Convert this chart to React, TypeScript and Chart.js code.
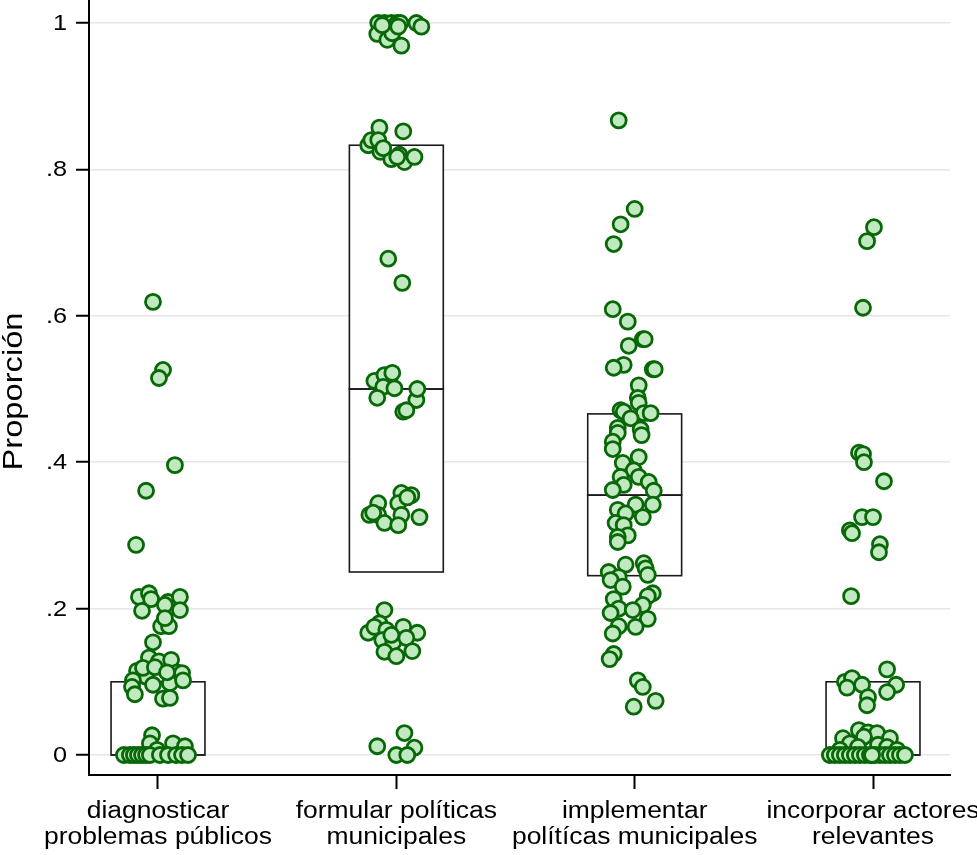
import React, { useEffect, useRef } from "react";
import { Chart, registerables } from "chart.js";

Chart.register(...registerables);

// Category labels (two lines each)
const categories: string[][] = [
  ["diagnosticar", "problemas públicos"],
  ["formular políticas", "municipales"],
  ["implementar", "polítícas municipales"],
  ["incorporar actores", "relevantes"],
];

const yTicks = [0, 0.2, 0.4, 0.6, 0.8, 1];
const yTitle = "Proporción";

// Box statistics per category
const q1 = [0, 0.25, 0.245, 0];
const median = [0, 0.5, 0.355, 0];
const q3 = [0.1, 0.833, 0.466, 0.1];

// Observed proportions and their horizontal jitter (category units)
const diagValues = [
  0.619, 0.526, 0.515, 0.396, 0.361, 0.287, 0.216, 0.221, 0.213, 0.197, 0.209, 0.216, 0.198,
  0.205, 0.176, 0.176, 0.187, 0.154, 0.133, 0.128, 0.13, 0.115, 0.113, 0.112, 0.107, 0.102,
  0.093, 0.083, 0.096, 0.098, 0.077, 0.078, 0.102, 0.119, 0.12, 0.113, 0.027, 0.016, 0.007,
  0.016, 0.012, 0, 0, 0, 0, 0, 0, 0, 0, 0, 0, 0, 0,
];
const diagJitter = [
  -0.021, 0.021, 0.004, 0.071, -0.05, -0.092, -0.08, -0.038, -0.029, -0.067, 0.042, 0.092, 0.092,
  0.029, 0.013, 0.046, 0.029, -0.021, -0.038, 0.004, 0.055, -0.088, 0.08, 0.101, -0.05, -0.105,
  -0.109, -0.097, -0.021, 0.05, 0.021, 0.05, 0.105, -0.063, -0.013, 0.038, -0.025, -0.034, -0.004,
  0.063, 0.113, -0.143, -0.118, -0.101, -0.084, -0.067, -0.05, -0.034, 0.008, 0.042, 0.076, 0.101,
  0.126,
];

const formValues = [
  1, 1, 1, 1, 1, 1, 0.995, 0.985, 0.977, 0.986, 0.995, 0.969, 0.997, 0.857, 0.852, 0.833, 0.84,
  0.84, 0.824, 0.814, 0.82, 0.81, 0.817, 0.817, 0.829, 0.678, 0.645, 0.511, 0.519, 0.522, 0.503,
  0.501, 0.488, 0.485, 0.5, 0.469, 0.471, 0.344, 0.358, 0.355, 0.328, 0.328, 0.344, 0.328, 0.325,
  0.317, 0.314, 0.352, 0.331, 0.198, 0.167, 0.18, 0.175, 0.171, 0.175, 0.167, 0.157, 0.154, 0.16,
  0.141, 0.135, 0.142, 0.164, 0.03, 0.012, 0.01, 0, 0,
];
const formJitter = [
  -0.076, -0.05, -0.021, 0.004, 0.017, 0.084, 0.105, -0.08, -0.038, -0.017, 0.008, 0.021, -0.059,
  -0.071, 0.029, -0.118, -0.105, -0.076, -0.067, -0.021, 0.013, 0.034, 0.076, 0.004, -0.055,
  -0.034, 0.025, -0.092, -0.05, -0.017, -0.055, -0.008, -0.08, 0.084, 0.088, 0.029, 0.042, -0.076,
  0.021, 0.063, -0.113, -0.076, 0.008, 0.021, 0.097, -0.05, 0.008, 0.046, -0.097, -0.05, -0.118,
  -0.071, -0.092, -0.042, 0.029, 0.088, -0.059, -0.013, 0.042, -0.05, 0, 0.067, -0.021, 0.034,
  -0.08, 0.076, 0, 0.046,
];

const implValues = [
  0.867, 0.746, 0.725, 0.698, 0.609, 0.592, 0.568, 0.568, 0.559, 0.533, 0.529, 0.527, 0.527,
  0.505, 0.488, 0.481, 0.471, 0.469, 0.467, 0.467, 0.46, 0.447, 0.445, 0.44, 0.437, 0.428, 0.418,
  0.407, 0.399, 0.389, 0.38, 0.38, 0.373, 0.369, 0.362, 0.361, 0.342, 0.342, 0.335, 0.33, 0.325,
  0.317, 0.314, 0.3, 0.298, 0.291, 0.26, 0.262, 0.255, 0.25, 0.243, 0.246, 0.239, 0.23, 0.221,
  0.217, 0.213, 0.205, 0.2, 0.198, 0.194, 0.186, 0.176, 0.175, 0.166, 0.138, 0.131, 0.102, 0.093,
  0.074, 0.066,
];
const implJitter = [
  -0.067, 0, -0.059, -0.088, -0.092, -0.029, 0.034, 0.042, -0.025, -0.046, -0.088, 0.076, 0.084,
  0.017, 0.013, 0.017, -0.059, -0.046, 0.038, 0.067, -0.017, -0.071, 0.025, -0.071, 0.029, -0.092,
  -0.092, 0.017, -0.05, -0.004, -0.059, 0.017, 0.059, -0.046, -0.092, 0.08, 0.076, 0.004, -0.071,
  -0.038, 0.034, -0.08, -0.046, -0.029, -0.071, -0.071, -0.038, 0.038, 0.046, -0.109, -0.067,
  0.055, -0.101, -0.05, 0.076, 0.055, -0.088, 0.034, -0.067, -0.008, -0.101, 0.055, -0.067, 0.004,
  -0.092, -0.088, -0.105, 0.013, 0.034, 0.088, -0.004,
];

const incValues = [
  0.721, 0.702, 0.611, 0.413, 0.411, 0.4, 0.374, 0.325, 0.325, 0.307, 0.303, 0.288, 0.277, 0.217,
  0.117, 0.1, 0.105, 0.096, 0.092, 0.096, 0.086, 0.079, 0.068, 0.034, 0.031, 0.03, 0.023, 0.025,
  0.023, 0.016, 0.011, 0.014, 0.011, 0.007, 0.007, 0, 0, 0, 0, 0, 0, 0, 0, 0, 0, 0, 0, 0, 0, 0, 0,
  0,
];
const incJitter = [
  0.004, -0.025, -0.042, -0.059, -0.042, -0.038, 0.046, -0.046, 0, -0.097, -0.088, 0.029, 0.025,
  -0.092, 0.059, -0.118, -0.088, -0.046, -0.109, 0.097, 0.059, -0.021, -0.025, -0.059, -0.021,
  0.017, -0.126, -0.038, 0.071, -0.097, -0.063, 0.021, 0.059, 0.101, -0.139, -0.181, -0.16, -0.139,
  -0.118, -0.097, -0.076, -0.055, -0.034, -0.013, 0.008, 0.029, 0.05, 0.071, 0.092, 0.113, 0.134,
  -0.004,
];

const groupValues = [diagValues, formValues, implValues, incValues];
const groupJitter = [diagJitter, formJitter, implJitter, incJitter];

const FONT = "'Liberation Sans', Arial, Helvetica, sans-serif";
const BOX_HALF = 0.197;
// the labels use a wide sans face: Liberation Sans stretched horizontally
const TEXT_STRETCH = 1.15;

function wideText(
  ctx: CanvasRenderingContext2D,
  text: string,
  x: number,
  y: number,
  align: CanvasTextAlign,
  stretch: number,
  rotate = 0
) {
  ctx.save();
  ctx.translate(x, y);
  if (rotate) ctx.rotate(rotate);
  ctx.scale(stretch, 1);
  ctx.textAlign = align;
  ctx.textBaseline = "middle";
  ctx.fillText(text, 0, 0);
  ctx.restore();
}

const boxPlugin = {
  id: "iqrBoxes",
  beforeDatasetsDraw(chart: any) {
    const { ctx, scales } = chart;
    const xs = scales.x;
    const ys = scales.y;
    ctx.save();
    ctx.strokeStyle = "#1a1a1a";
    ctx.lineWidth = 1.6;
    ctx.fillStyle = "#ffffff";
    for (let i = 0; i < q1.length; i++) {
      const l = xs.getPixelForValue(i + 1 - BOX_HALF);
      const r = xs.getPixelForValue(i + 1 + BOX_HALF);
      const yq1 = ys.getPixelForValue(q1[i]);
      const ym = ys.getPixelForValue(median[i]);
      const yq3 = ys.getPixelForValue(q3[i]);
      // lower half (q1 to median) and upper half (median to q3)
      ctx.fillRect(l, yq3, r - l, yq1 - yq3);
      ctx.strokeRect(l, ym, r - l, yq1 - ym);
      ctx.strokeRect(l, yq3, r - l, ym - yq3);
    }
    ctx.restore();
  },
};

const labelPlugin = {
  id: "axisLabels",
  afterDraw(chart: any) {
    const { ctx, scales, chartArea } = chart;
    const xs = scales.x;
    const ys = scales.y;
    ctx.save();
    ctx.fillStyle = "#000";

    // y tick labels
    ctx.font = `22px ${FONT}`;
    const yLabelRight = chartArea.left - 13 - 9;
    yTicks.forEach((v) => {
      const txt = v === 0 ? "0" : v === 1 ? "1" : v.toFixed(1).replace(/^0/, "");
      wideText(ctx, txt, yLabelRight, ys.getPixelForValue(v) + 1, "right", TEXT_STRETCH);
    });

    // x category labels
    ctx.font = `23px ${FONT}`;
    categories.forEach((lines, i) => {
      const cx = xs.getPixelForValue(i + 1);
      lines.forEach((line, k) => {
        wideText(ctx, line, cx, chartArea.bottom + 37 + k * 26, "center", TEXT_STRETCH);
      });
    });

    // y axis title
    ctx.font = `27px ${FONT}`;
    wideText(ctx, yTitle, 15, (chartArea.top + chartArea.bottom) / 2 + 4, "center", 1.21, -Math.PI / 2);
    ctx.restore();
  },
};

export default function App() {
  const canvasRef = useRef<HTMLCanvasElement | null>(null);

  useEffect(() => {
    const canvas = canvasRef.current;
    if (!canvas) return;

    const points: { x: number; y: number }[] = [];
    groupValues.forEach((vals, g) => {
      vals.forEach((v, k) => points.push({ x: g + 1 + groupJitter[g][k], y: v }));
    });

    const chart = new Chart(canvas, {
      type: "scatter",
      data: {
        datasets: [
          {
            data: points,
            pointRadius: 7.5,
            pointHoverRadius: 7.5,
            pointBackgroundColor: "#c0e9c0",
            pointBorderColor: "#086808",
            pointBorderWidth: 2.8,
          },
        ],
      },
      plugins: [boxPlugin, labelPlugin],
      options: {
        responsive: false,
        animation: false,
        layout: { autoPadding: false, padding: { top: 0, right: 27, left: 0, bottom: 0 } },
        plugins: {
          legend: { display: false },
          tooltip: { enabled: false },
        },
        scales: {
          x: {
            type: "linear",
            min: 0.7105,
            max: 4.323,
            afterBuildTicks: (scale: any) => {
              scale.ticks = categories.map((_, i) => ({ value: i + 1 }));
            },
            afterFit: (scale: any) => {
              scale.height = 80;
              scale.paddingLeft = 0;
              scale.paddingRight = 0;
            },
            ticks: { display: false },
            grid: {
              drawOnChartArea: false,
              drawTicks: true,
              tickLength: 14,
              tickColor: "#000",
              tickWidth: 2,
            },
            border: { display: true, color: "#000", width: 2 },
          },
          y: {
            min: -0.0273,
            max: 1.0314,
            afterBuildTicks: (scale: any) => {
              scale.ticks = yTicks.map((v) => ({ value: v }));
            },
            afterFit: (scale: any) => {
              scale.width = 89;
              scale.paddingTop = 0;
              scale.paddingBottom = 0;
            },
            ticks: { display: false },
            grid: {
              color: "#e6e6e6",
              lineWidth: 1.5,
              tickColor: "#000",
              tickWidth: 2,
              tickLength: 13,
            },
            border: { display: true, color: "#000", width: 2 },
          },
        },
      },
    });

    return () => chart.destroy();
  }, []);

  return (
    <div style={{ position: "absolute", left: 0, top: 0, width: 977, height: 855, background: "#fff" }}>
      <canvas ref={canvasRef} width={977} height={855} style={{ display: "block" }} />
    </div>
  );
}
